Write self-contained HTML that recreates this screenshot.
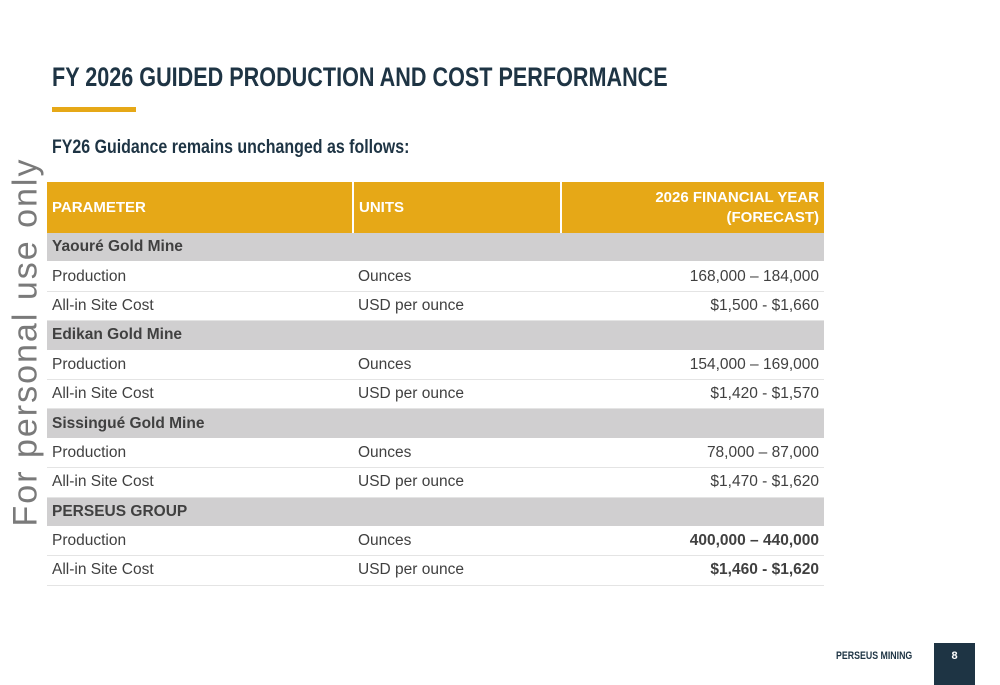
<!DOCTYPE html>
<html><head><meta charset="utf-8"><style>
body{margin:0;width:1000px;height:685px;background:#fff;position:relative;overflow:hidden;font-family:"Liberation Sans",sans-serif;}
.t{position:absolute;white-space:nowrap;transform-origin:0 0}
table{position:absolute;left:47px;top:182px;border-collapse:collapse;width:777px;font-size:15.5px;color:#404040;table-layout:fixed}
td,th{padding:0 5px;height:28.4px;border-bottom:1.4px solid #e4e4e4;overflow:hidden;white-space:nowrap}
th{background:#e6a817;color:#fff;text-align:left;height:51px;font-weight:bold;border-right:2px solid #fff;border-bottom:none;font-size:15px}
th:last-child{border-right:none;text-align:right;line-height:20px}
tr.g td{background:#d0cfd0;font-weight:bold;border-bottom:1px solid #fff}
td.r{text-align:right}
</style></head><body>
<div class="t" style="left:52px;top:62px;font-size:27px;font-weight:bold;color:#1e3444;transform:scaleX(0.8)">FY 2026 GUIDED PRODUCTION AND COST PERFORMANCE</div>
<div style="position:absolute;left:52px;top:107px;width:84px;height:5px;background:#e6a817"></div>
<div class="t" style="left:52px;top:137px;font-size:19px;font-weight:bold;color:#1e3444;transform:scaleX(0.84)">FY26 Guidance remains unchanged as follows:</div>
<div class="t" style="left:26px;top:342px;transform:translate(-50%,-50%) rotate(-90deg);transform-origin:50% 50%;font-size:34px;color:#7a7a7a;letter-spacing:2px">For personal use only</div>
<table>
<col style="width:306px"><col style="width:208px"><col>
<tr><th>PARAMETER</th><th>UNITS</th><th>2026 FINANCIAL YEAR<br>(FORECAST)</th></tr>
<tr class="g"><td>Yaouré Gold Mine</td><td></td><td></td></tr>
<tr><td>Production</td><td>Ounces</td><td class="r">168,000 – 184,000</td></tr>
<tr><td>All-in Site Cost</td><td>USD per ounce</td><td class="r">$1,500 - $1,660</td></tr>
<tr class="g"><td>Edikan Gold Mine</td><td></td><td></td></tr>
<tr><td>Production</td><td>Ounces</td><td class="r">154,000 – 169,000</td></tr>
<tr><td>All-in Site Cost</td><td>USD per ounce</td><td class="r">$1,420 - $1,570</td></tr>
<tr class="g"><td>Sissingué Gold Mine</td><td></td><td></td></tr>
<tr><td>Production</td><td>Ounces</td><td class="r">78,000 – 87,000</td></tr>
<tr><td>All-in Site Cost</td><td>USD per ounce</td><td class="r">$1,470 - $1,620</td></tr>
<tr class="g"><td>PERSEUS GROUP</td><td></td><td></td></tr>
<tr><td>Production</td><td>Ounces</td><td class="r"><b>400,000 – 440,000</b></td></tr>
<tr><td>All-in Site Cost</td><td>USD per ounce</td><td class="r"><b>$1,460 - $1,620</b></td></tr>
</table>
<div class="t" style="left:836px;top:650px;font-size:11px;font-weight:bold;color:#1e3444;transform:scaleX(0.8)">PERSEUS MINING</div>
<div style="position:absolute;left:934px;top:643px;width:41px;height:42px;background:#1e3444;color:#fff;font-size:11px;font-weight:bold;text-align:center;line-height:26px">8</div>
</body></html>
